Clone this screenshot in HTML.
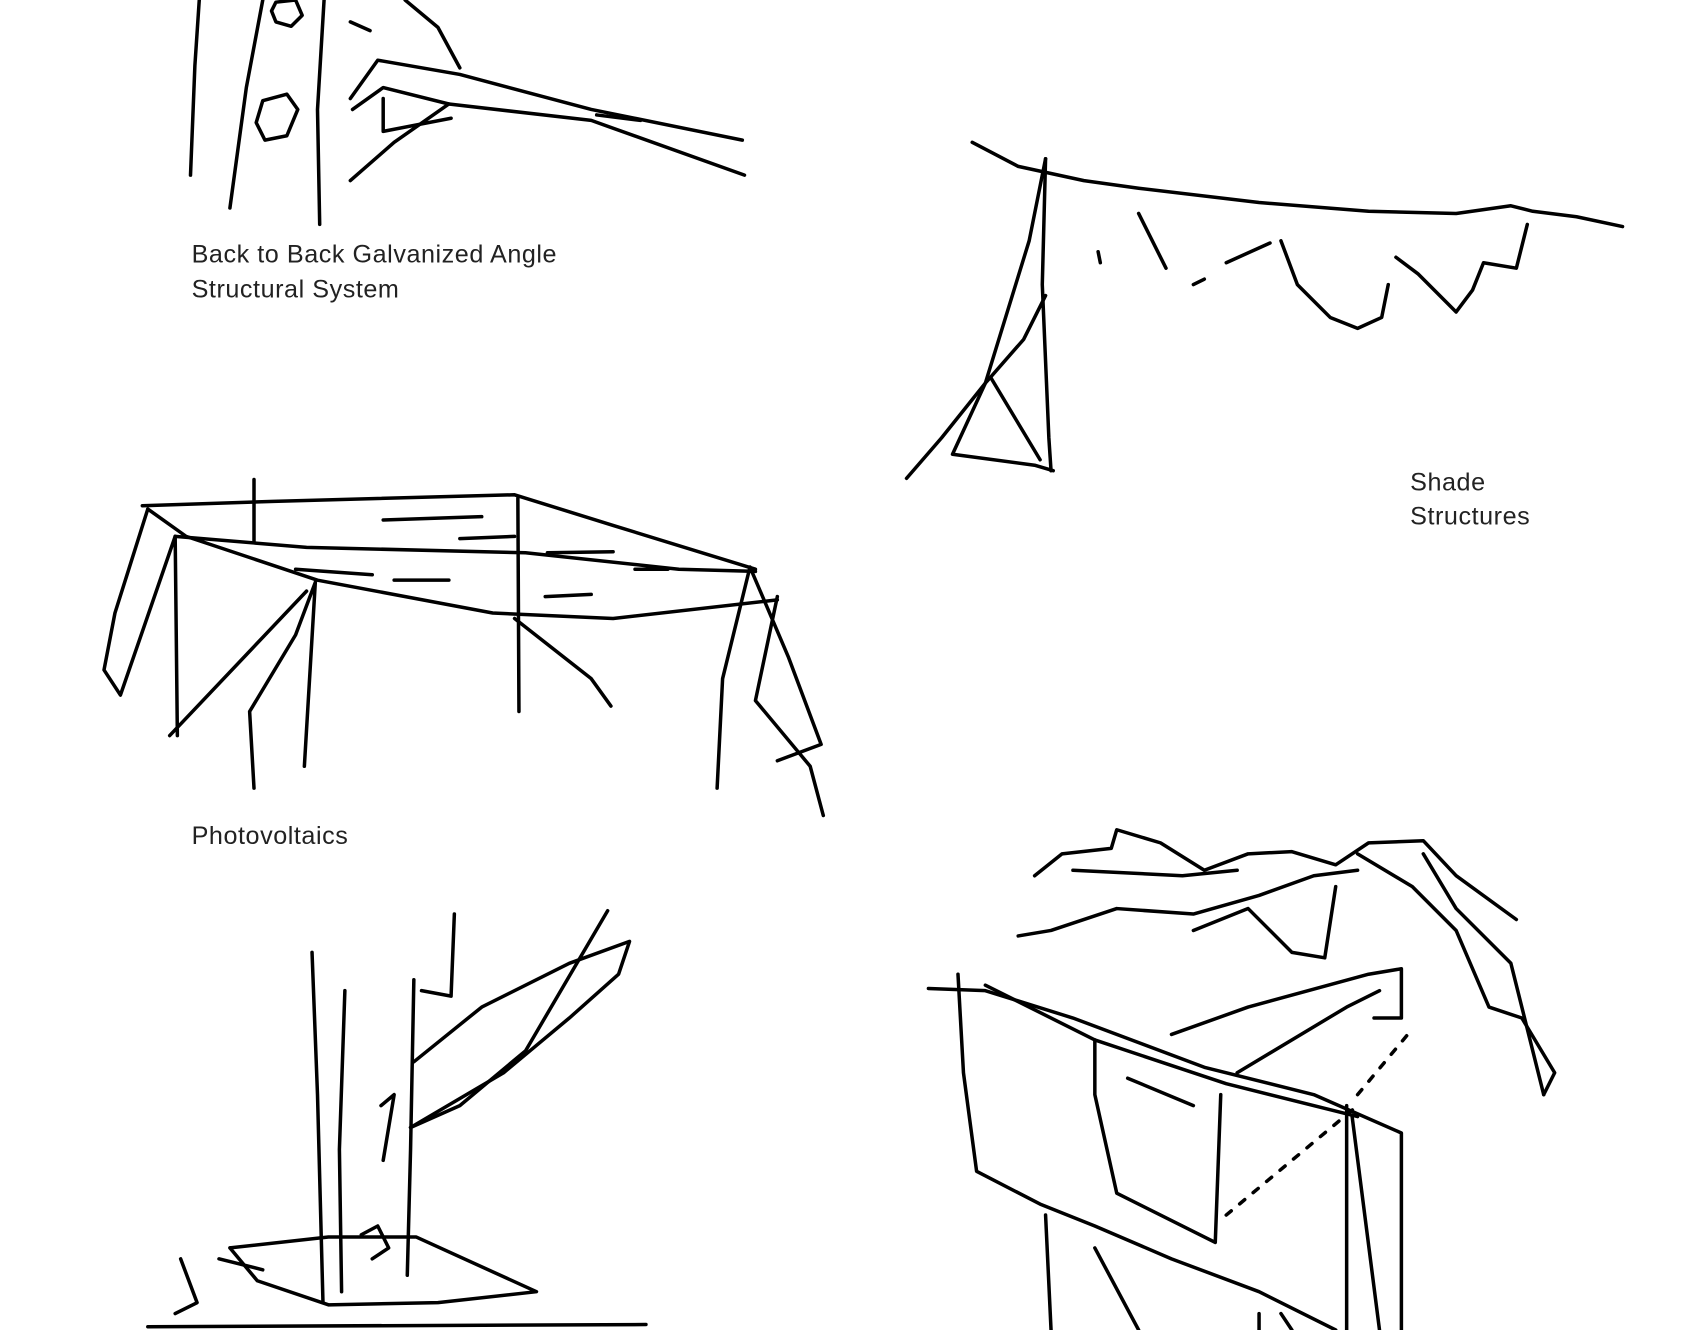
<!DOCTYPE html>
<html><head><meta charset="utf-8"><style>
html,body{margin:0;padding:0;background:#fff;width:1697px;height:1330px;overflow:hidden}
svg{display:block}
text{font-family:"Liberation Sans",sans-serif;font-size:23px;fill:#222;letter-spacing:0.5px}
path,polyline,line,polygon{fill:none;stroke:#000;stroke-width:3.2;stroke-linecap:round;stroke-linejoin:round}
</style></head><body>
<svg width="1697" height="1330" viewBox="0 0 1550 1215" preserveAspectRatio="none">
<path d="M182 0 L178 60 L174 160"/>
<path d="M240 0 L225 80 L210 190"/>
<path d="M296 0 L290 100 L292 205"/>
<polygon points="252,2 270,0 276,14 266,24 252,20 248,10"/>
<polygon points="240,92 262,86 272,100 262,124 242,128 234,112"/>
<path d="M370 0 L400 25 L420 62"/>
<path d="M320 90 L345 55 L420 68 L540 100 L678 128"/>
<path d="M322 100 L350 80 L410 95 L540 110 L680 160"/>
<path d="M350 90 L350 120 L412 108"/>
<path d="M320 165 L360 130 L410 95"/>
<path d="M320 20 L338 28 M545 105 L585 110"/>
<text x="175" y="240">Back to Back Galvanized Angle</text>
<text x="175" y="272">Structural System</text>
<path d="M888 130 L930 152 L990 165 L1040 172 L1150 185 L1250 193 L1330 195 L1380 188 L1400 193 L1440 198 L1482 207"/>
<path d="M955 145 L940 220 L900 350 L870 415 L945 425 L962 430"/>
<path d="M955 145 L952 260 L958 400 L960 430"/>
<path d="M828 437 L860 400 L900 350 L935 310 L955 270"/>
<path d="M905 345 L950 420"/>
<path d="M1040 195 L1065 245"/>
<path d="M1170 220 L1185 260 L1215 290 L1240 300 L1262 290 L1268 260"/>
<path d="M1275 235 L1295 250 L1330 285 L1345 265 L1355 240 L1385 245 L1395 205"/>
<path d="M1090 260 L1100 255 M1120 240 L1160 222 M1003 230 L1005 240"/>
<text x="1288" y="448">Shade</text>
<text x="1288" y="479">Structures</text>
<path d="M130 462 L250 458 L470 452 L560 480 L690 520"/>
<path d="M135 465 L170 490 L290 530 L450 560 L560 565 L710 548"/>
<path d="M160 490 L280 500 L480 505 L620 520 L690 522"/>
<path d="M160 490 L162 672 M473 455 L474 650 M232 438 L232 495"/>
<path d="M135 465 L105 560 L95 612 L110 635 L160 490"/>
<path d="M288 532 L270 580 L228 650 L232 720 M288 532 L278 700 M280 540 L155 672"/>
<path d="M470 565 L540 620 L558 645"/>
<path d="M685 518 L660 620 L655 720 M685 518 L720 600 L750 680 L710 695 M710 545 L690 640 L740 700 L752 745"/>
<path d="M350 475 L440 472 M420 492 L470 490 M500 505 L560 504 M498 545 L540 543 M580 520 L610 520 M270 520 L340 525 M360 530 L410 530"/>
<text x="175" y="771">Photovoltaics</text>
<path d="M285 870 L290 1000 L295 1190"/>
<path d="M315 905 L310 1050 L312 1180"/>
<path d="M378 895 L375 1050 L372 1165"/>
<path d="M415 835 L412 910 L385 905"/>
<path d="M375 1030 L420 1010 L480 960 L555 832"/>
<path d="M378 970 L440 920 L520 880 L575 860 L565 890 L520 930 L460 980 L375 1030"/>
<path d="M348 1010 L360 1000 L350 1060"/>
<path d="M210 1140 L300 1130 L380 1130 L490 1180 L400 1190 L300 1192 L235 1170 L210 1140"/>
<path d="M165 1150 L180 1190 L160 1200 M135 1212 L590 1210 M200 1150 L240 1160"/>
<path d="M330 1128 L345 1120 L355 1140 L340 1150"/>
<path d="M945 800 L970 780 L1015 775 L1020 758 L1060 770 L1100 795 L1140 780 L1180 778 L1220 790 L1250 770 L1300 768 L1330 800 L1385 840"/>
<path d="M930 855 L960 850 L1020 830 L1090 835 L1150 818 L1200 800 L1240 795"/>
<path d="M980 795 L1080 800 L1130 795 M1240 780 L1290 810 L1330 850 L1360 920 L1390 930 L1420 980 L1410 1000"/>
<path d="M1300 780 L1330 830 L1380 880 L1410 1000"/>
<path d="M1090 850 L1140 830 L1180 870 L1210 875 L1220 810"/>
<path d="M848 903 L900 905 L980 930 L1100 975 L1200 1000 L1280 1035 L1280 1215"/>
<path d="M875 890 L880 980 L892 1070 L950 1100 L1000 1120 L1070 1150 L1150 1180 L1220 1215"/>
<path d="M900 900 L1000 950 L1120 990 L1240 1020"/>
<path d="M1000 950 L1000 1000 L1020 1090 L1110 1135 L1115 1000"/>
<path d="M1030 985 L1090 1010"/>
<path d="M1070 945 L1140 920 L1250 890 L1280 885 L1280 930 L1255 930"/>
<path d="M1130 980 L1230 920 L1260 905"/>
<path d="M1230 1010 L1230 1215 M1235 1020 L1260 1215"/>
<path d="M955 1110 L960 1215 M1000 1140 L1040 1215"/>
<path d="M1120 1110 L1240 1010 M1240 1000 L1290 940" stroke-dasharray="6 10"/>
<path d="M1150 1200 L1150 1215 M1170 1200 L1180 1215"/>
</svg>
</body></html>
